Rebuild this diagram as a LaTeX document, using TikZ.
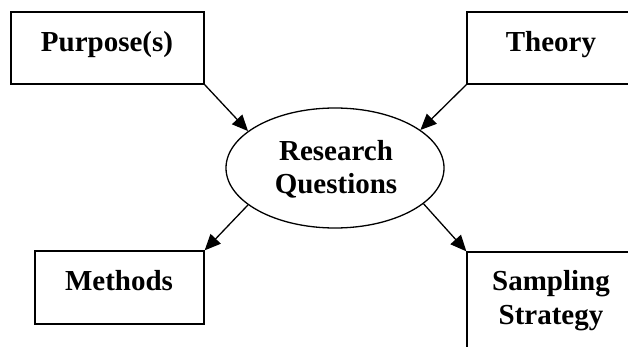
\documentclass[tikz,border=0pt]{standalone}
\usepackage{fontspec}
\setmainfont{Liberation Serif}
\usetikzlibrary{shapes.geometric,arrows.meta}
\begin{document}
\begin{tikzpicture}[x=1pt,y=1pt,
  box/.style={draw,line width=1.3pt,inner sep=0pt},
  lbl/.style={font=\fontsize{29}{33}\selectfont\bfseries,anchor=base,inner sep=0pt},
  conn/.style={line width=1.3pt,-{Triangle[length=16pt,width=14pt]}}]
\useasboundingbox (0,0) rectangle (628,-347);
\clip (0,0) rectangle (628,-347);
\fill[white] (0,0) rectangle (628,-347);
% boxes
\node[box,minimum width=193pt,minimum height=72pt] (purpose) at (107.5,-48) {};
\node[box,minimum width=193pt,minimum height=72pt] (theory) at (563.5,-48) {};
\node[box,minimum width=169pt,minimum height=73pt] (methods) at (119.5,-287.5) {};
\node[box,minimum width=193pt,minimum height=120pt] (sampling) at (563.5,-312) {};
\node[draw,ellipse,line width=1.3pt,minimum width=218pt,minimum height=120pt,inner sep=0pt] (rq) at (335,-168) {};
% labels
\node[lbl] (tpurpose) at (107,-52) {Purpose(s)};
\node[lbl] (ttheory) at (551,-52) {Theory};
\node[lbl] (tmethods) at (119,-290) {Methods};
\node[lbl] (tsampling) at (551,-290) {Sampling};
\node[lbl] (tstrategy) at (551,-324) {Strategy};
\node[lbl] (tresearch) at (336,-161) {Research};
\node[lbl] (tquestions) at (336,-194) {Questions};
% connectors
\draw[conn] (purpose.south east) -- (rq.157);
\draw[conn] (theory.south west) -- (rq.24);
\draw[conn] (rq.203) -- (methods.north east);
\draw[conn] (rq.338) -- (sampling.north west);
\end{tikzpicture}
\end{document}
